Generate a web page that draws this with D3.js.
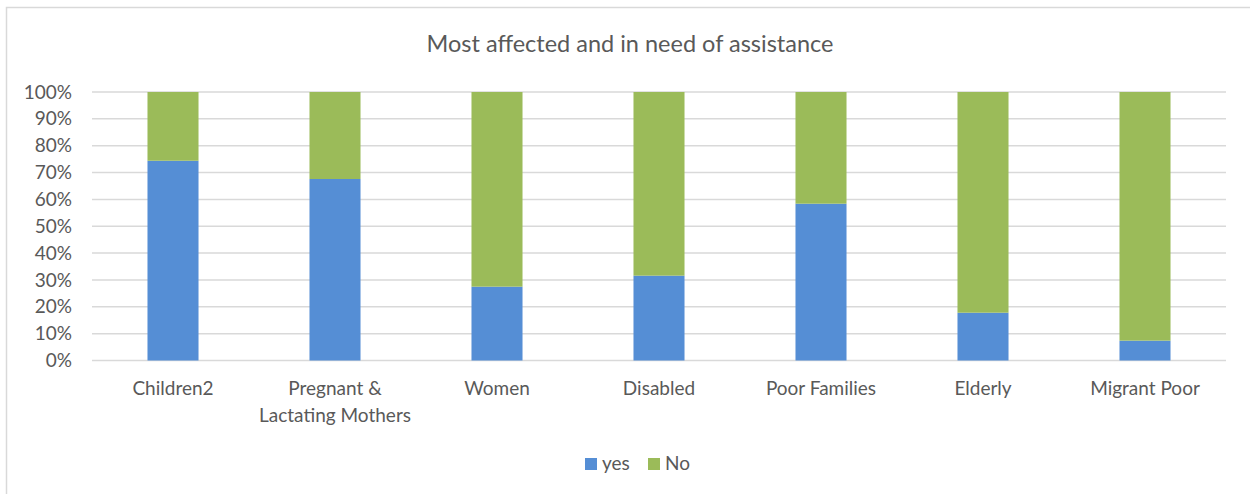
<!DOCTYPE html>
<html>
<head>
<meta charset="utf-8">
<script src="https://cdn.jsdelivr.net/npm/d3@7"></script>
<style>
  html, body { margin: 0; padding: 0; background: #fff; }
  svg { display: block; }
  text { font-family: Lato, "Open Sans", sans-serif; fill: #595959; }
</style>
</head>
<body>
<svg id="chart" width="1250" height="494"></svg>
<script>
const categories = ["Children2", "Pregnant & Lactating Mothers", "Women", "Disabled", "Poor Families", "Elderly", "Migrant Poor"];
const yesValues = [74.4, 67.6, 27.5, 31.6, 58.4, 17.8, 7.4];
const noValues = [25.6, 32.4, 72.5, 68.4, 41.6, 82.2, 92.6];
const seriesNames = ["yes", "No"];
const yTicks = [0, 10, 20, 30, 40, 50, 60, 70, 80, 90, 100];
const title = "Most affected and in need of assistance";

const colors = { yes: "#558ed5", No: "#9bbb59" };

const svg = d3.select("#chart");
const W = 1250, H = 494;
const m = { left: 92, right: 24, top: 92, bottom: 133.5 };

// chart border
svg.append("rect")
  .attr("x", 6.5).attr("y", 7.5)
  .attr("width", W + 10).attr("height", H + 10)
  .attr("fill", "none").attr("stroke", "#d9d9d9").attr("stroke-width", 1.5);

const x = d3.scaleBand().domain(categories)
  .range([m.left, W - m.right]).paddingInner(0.685).paddingOuter(0.3425);
const y = d3.scaleLinear().domain([0, 100]).range([H - m.bottom, m.top]);

// gridlines
svg.append("g").selectAll("line").data(yTicks).join("line")
  .attr("x1", m.left).attr("x2", W - m.right)
  .attr("y1", d => y(d)).attr("y2", d => y(d))
  .attr("stroke", "#d9d9d9").attr("stroke-width", 1.5);

// y axis labels
const yAxis = d3.axisLeft(y).tickValues(yTicks).tickFormat(d => d + "%").tickSize(0).tickPadding(20);
const ya = svg.append("g").attr("transform", `translate(${m.left},0)`).call(yAxis);
ya.select(".domain").remove();
ya.selectAll("text").style("font-size", "19px").attr("fill", "#595959").style("font-family", "Lato, sans-serif");

// stacked data
const rows = categories.map((c, i) => ({ cat: c, yes: yesValues[i], No: noValues[i] }));
const stack = d3.stack().keys(seriesNames)(rows);

svg.append("g").selectAll("g").data(stack).join("g")
  .attr("fill", d => colors[d.key])
  .selectAll("rect").data(d => d).join("rect")
  .attr("x", d => x(d.data.cat))
  .attr("width", x.bandwidth())
  .attr("y", d => y(d[1]))
  .attr("height", d => y(d[0]) - y(d[1]));

// x axis labels (wrapped)
const wraps = { "Pregnant & Lactating Mothers": ["Pregnant &", "Lactating Mothers"] };
const xl = svg.append("g");
categories.forEach(c => {
  const lines = wraps[c] || [c];
  const t = xl.append("text")
    .attr("x", x(c) + x.bandwidth() / 2)
    .attr("y", 395)
    .attr("text-anchor", "middle")
    .style("font-size", "19px");
  lines.forEach((ln, i) => {
    t.append("tspan").attr("x", x(c) + x.bandwidth() / 2).attr("dy", i === 0 ? 0 : 26.5).text(ln);
  });
});

// title
svg.append("text").attr("x", 630).attr("y", 52).attr("text-anchor", "middle")
  .style("font-size", "23.5px").text(title);

// legend
const lg = svg.append("g");
const legendItems = [{ k: "yes", x: 585 }, { k: "No", x: 648 }];
legendItems.forEach(it => {
  lg.append("rect").attr("x", it.x).attr("y", 458).attr("width", 12).attr("height", 12).attr("fill", colors[it.k]);
  lg.append("text").attr("x", it.x + 17).attr("y", 470).style("font-size", "19px").text(it.k);
});
</script>
</body>
</html>
